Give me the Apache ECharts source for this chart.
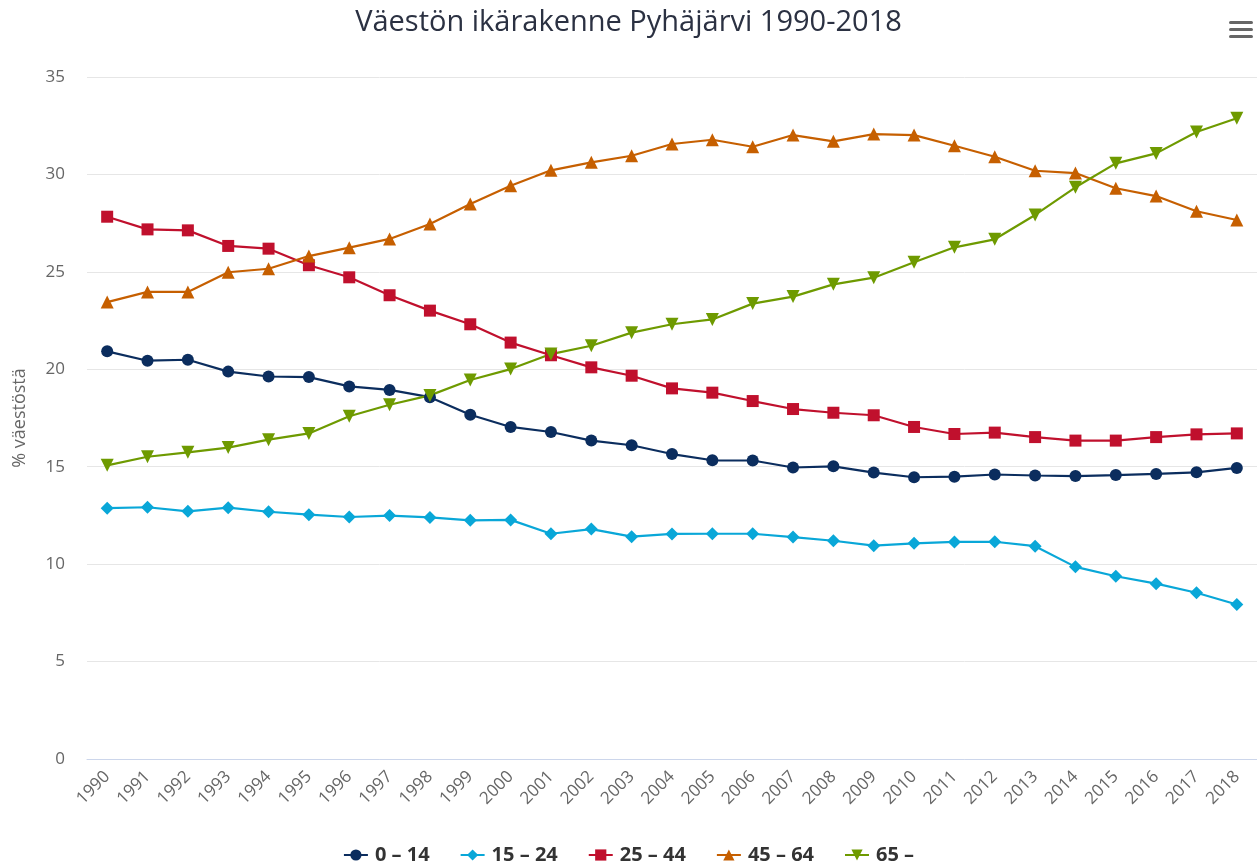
<!DOCTYPE html>
<html>
<head>
<meta charset="utf-8">
<script src="https://cdn.jsdelivr.net/npm/echarts@6/dist/echarts.min.js"></script>
<style>
html,body{margin:0;padding:0;background:#fff;}
#c{width:1257px;height:863px;}
</style>
</head>
<body>
<div id="c"></div>
<script>
const years = ['1990','1991','1992','1993','1994','1995','1996','1997','1998','1999','2000','2001','2002','2003','2004','2005','2006','2007','2008','2009','2010','2011','2012','2013','2014','2015','2016','2017','2018'];
const yTicks = [0, 5, 10, 15, 20, 25, 30, 35];
const seriesNames = ['0 – 14', '15 – 24', '25 – 44', '45 – 64', '65 –'];
const age0_14 = [20.92,20.44,20.49,19.88,19.63,19.60,19.12,18.94,18.57,17.67,17.04,16.78,16.34,16.10,15.65,15.33,15.32,14.96,15.02,14.70,14.46,14.49,14.60,14.55,14.52,14.57,14.63,14.71,14.94];
const age15_24 = [12.87,12.92,12.71,12.90,12.69,12.54,12.42,12.49,12.40,12.25,12.27,11.56,11.80,11.41,11.55,11.56,11.56,11.39,11.20,10.95,11.07,11.14,11.15,10.92,9.86,9.38,9.00,8.53,7.93];
const age25_44 = [27.83,27.18,27.13,26.33,26.19,25.34,24.72,23.80,23.01,22.31,21.37,20.72,20.10,19.67,19.02,18.80,18.37,17.96,17.77,17.64,17.04,16.68,16.75,16.52,16.34,16.34,16.52,16.66,16.71];
const age45_64 = [23.45,23.97,23.97,24.98,25.16,25.81,26.24,26.69,27.46,28.48,29.42,30.21,30.62,30.96,31.56,31.78,31.42,32.02,31.70,32.07,32.02,31.47,30.91,30.19,30.07,29.29,28.89,28.11,27.66];
const age65 = [15.07,15.51,15.74,15.98,16.39,16.71,17.59,18.18,18.66,19.45,20.01,20.78,21.21,21.88,22.31,22.56,23.37,23.73,24.36,24.70,25.49,26.26,26.67,27.92,29.34,30.57,31.08,32.18,32.88];

const colors = ['#0b2d5e', '#09a7d8', '#c0102d', '#c65f00', '#6e9a00'];
const symbols = ['circle', 'diamond', 'rect', 'triangle', 'path://M0,0 L10,0 L5,9 Z'];
const sizes = [12, 13, 12, 13, 13];
const dataSets = [age0_14, age15_24, age25_44, age45_64, age65];

const chart = echarts.init(document.getElementById('c'), null, {renderer: 'canvas'});
const FONT = '"Open Sans", "Noto Sans", sans-serif';

chart.setOption({
  animation: false,
  color: colors,
  textStyle: {fontFamily: FONT},
  title: {
    text: 'Väestön ikärakenne Pyhäjärvi 1990-2018',
    left: 'center',
    top: 3,
    textStyle: {fontFamily: FONT, fontSize: 29, fontWeight: 'normal', color: '#2b3142'}
  },
  legend: {
    top: 840,
    left: 'center',
    itemGap: 30,
    itemWidth: 24,
    itemHeight: 14,
    textStyle: {fontFamily: FONT, fontSize: 20, fontWeight: 'bold', color: '#333', padding: [0, 0, 0, 2]},
    data: seriesNames
  },
  grid: {left: 87, right: 0, top: 77, bottom: 104, containLabel: false},
  xAxis: {
    type: 'category',
    data: years,
    boundaryGap: true,
    axisLine: {show: true, lineStyle: {color: '#ccd6eb', width: 1}},
    axisTick: {show: false},
    axisLabel: {rotate: 45, color: '#666', fontSize: 17, fontFamily: FONT, margin: 15, interval: 0}
  },
  yAxis: {
    type: 'value',
    min: yTicks[0],
    max: yTicks[yTicks.length - 1],
    interval: yTicks[1] - yTicks[0],
    name: '% väestöstä',
    nameLocation: 'middle',
    nameGap: 58,
    nameTextStyle: {color: '#666', fontSize: 18, fontFamily: FONT},
    axisLine: {show: false},
    axisTick: {show: false},
    axisLabel: {color: '#666', fontSize: 17, fontFamily: FONT, margin: 22},
    splitLine: {lineStyle: {color: '#e6e6e6', width: 1}}
  },
  graphic: [
    {type: 'rect', right: 4, top: 21, shape: {width: 24, height: 3, r: 1.5}, style: {fill: '#666'}},
    {type: 'rect', right: 4, top: 28, shape: {width: 24, height: 3, r: 1.5}, style: {fill: '#666'}},
    {type: 'rect', right: 4, top: 35, shape: {width: 24, height: 3, r: 1.5}, style: {fill: '#666'}}
  ],
  series: dataSets.map((d, i) => ({
    name: seriesNames[i],
    type: 'line',
    data: d,
    symbol: symbols[i],
    symbolSize: sizes[i],
    showAllSymbol: true,
    lineStyle: {width: 2.2, color: colors[i]},
    itemStyle: {color: colors[i], borderWidth: 0},
    emphasis: {disabled: true}
  }))
});
</script>
</body>
</html>
